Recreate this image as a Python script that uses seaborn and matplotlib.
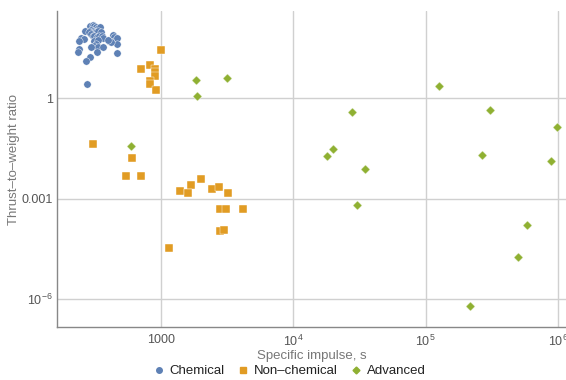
import numpy as np
import pandas as pd
import matplotlib
matplotlib.use("Agg")
import matplotlib.pyplot as plt
import matplotlib.ticker as mticker
from matplotlib.lines import Line2D
import seaborn as sns

# ---- data ----
chem_isp = [268, 294, 306, 315, 325, 334, 350, 298, 306, 315, 325, 338, 354, 289, 298,
            306, 315, 330, 344, 358, 366, 250, 262, 243, 312, 334, 325, 315, 338, 366,
            298, 243, 239, 330, 409, 434, 441, 446, 467, 472, 421, 402, 467, 294, 273, 278]
chem_twr = [105, 148, 155, 148, 132, 123, 138, 112, 105, 98, 93, 105, 98, 93, 83,
            74, 71, 66, 71, 74, 62, 62, 59, 52, 52, 56, 42, 37, 35, 33,
            33, 30, 25, 25, 52, 78, 66, 52, 62, 42, 47, 56, 23, 17, 13, 2.75]

nonchem_isp = [1000, 716, 827, 906, 912, 912, 831, 831, 917, 306, 605, 548, 711,
               2010, 1710, 1396, 1596, 2431, 2763, 3204, 2811, 3097, 4208, 2811, 3013, 1154]
nonchem_twr = [28.1, 7.57, 10.0, 7.4, 5.9, 4.48, 3.3, 2.63, 1.77, 0.0425, 0.0162, 0.00467, 0.00467,
               0.00379, 0.0025, 0.00166, 0.00144, 0.0019, 0.00218, 0.00144, 0.000477, 0.000477,
               0.000477, 0.000110, 0.000117, 3.23e-5]

adv_isp = [1854, 3148, 1875, 602, 126000, 27800, 306000, 977000, 19860, 18030, 265000,
           885000, 35000, 30300, 588000, 500000, 217000]
adv_twr = [3.47, 3.98, 1.15, 0.0363, 2.29, 0.38, 0.436, 0.135, 0.0295, 0.0182, 0.0195,
           0.0129, 0.0074, 0.00062, 0.000166, 1.82e-5, 6.2e-7]

categories = ["Chemical", "Non\u2013chemical", "Advanced"]
colors = ["#5E81B5", "#E19C24", "#8FB032"]
markers = ["o", "s", "D"]
sizes = [28, 28, 22]

x_tick_vals = [1e3, 1e4, 1e5, 1e6]
x_tick_labels = ["1000", r"$10^4$", r"$10^5$", r"$10^6$"]
y_tick_vals = [1, 1e-3, 1e-6]
y_tick_labels = ["1", "0.001", r"$10^{-6}$"]

df = pd.concat([
    pd.DataFrame({"isp": chem_isp, "twr": chem_twr, "type": categories[0]}),
    pd.DataFrame({"isp": nonchem_isp, "twr": nonchem_twr, "type": categories[1]}),
    pd.DataFrame({"isp": adv_isp, "twr": adv_twr, "type": categories[2]}),
])

sns.set_style("white")
plt.rcParams["font.family"] = ["Liberation Sans", "DejaVu Sans"]
plt.rcParams["mathtext.fontset"] = "custom"
plt.rcParams["mathtext.rm"] = "Liberation Sans"
plt.rcParams["mathtext.it"] = "Liberation Sans:italic"
plt.rcParams["mathtext.bf"] = "Liberation Sans:bold"

fig = plt.figure(figsize=(5.66, 3.80), dpi=100)
ax = fig.add_axes([57/566, 53/380, 509/566, 316/380])

for cat, col, mk, sz in zip(categories, colors, markers, sizes):
    sub = df[df["type"] == cat]
    sns.scatterplot(data=sub, x="isp", y="twr", ax=ax, color=col, marker=mk, s=sz,
                    edgecolor="#ffffff", linewidth=0.3, alpha=1.0, zorder=3, legend=False)

ax.set_xscale("log")
ax.set_yscale("log")
ax.set_xlim(165, 1.15e6)
ax.set_ylim(1.44e-7, 407)

for gx in x_tick_vals:
    ax.axvline(gx, color="#d0d0d0", lw=1.0, zorder=1)
for gy in y_tick_vals:
    ax.axhline(gy, color="#d0d0d0", lw=1.0, zorder=1)

ax.xaxis.set_major_locator(mticker.FixedLocator(x_tick_vals))
ax.xaxis.set_major_formatter(mticker.FixedFormatter(x_tick_labels))
ax.xaxis.set_minor_locator(mticker.LogLocator(base=10, subs=np.arange(2, 10), numticks=20))
ax.xaxis.set_minor_formatter(mticker.NullFormatter())
ax.yaxis.set_major_locator(mticker.FixedLocator(y_tick_vals))
ax.yaxis.set_major_formatter(mticker.FixedFormatter(y_tick_labels))
ax.yaxis.set_minor_locator(mticker.FixedLocator([1e2, 1e1, 1e-1, 1e-2, 1e-4, 1e-5]))
ax.yaxis.set_minor_formatter(mticker.NullFormatter())

ax.tick_params(axis="both", which="major", direction="in", length=5, width=0.8,
               color="#888888", labelcolor="#555555", labelsize=9, pad=3)
ax.tick_params(axis="both", which="minor", direction="in", length=2.8, width=0.6,
               color="#888888")
ax.tick_params(axis="x", which="major", pad=5)

for side in ["top", "right"]:
    ax.spines[side].set_visible(False)
for side in ["left", "bottom"]:
    ax.spines[side].set_color("#888888")
    ax.spines[side].set_linewidth(1.0)

ax.set_xlabel("Specific impulse, s", color="#777777", fontsize=9.5)
ax.set_ylabel("Thrust\u2013to\u2013weight ratio", color="#777777", fontsize=9.5)
ax.xaxis.set_label_coords(0.5, -0.092)
ax.yaxis.set_label_coords(-0.0845, 0.53)
ax.xaxis.label.set_va("center")
ax.yaxis.label.set_va("center")

handles = [Line2D([0], [0], marker=mk, color="none", markerfacecolor=col, markeredgecolor=col,
                  markersize=4 if mk != "D" else 3.5, linestyle="none")
           for col, mk in zip(colors, markers)]
fig.legend(handles, categories, loc="center", bbox_to_anchor=(289/566, 9/380), ncol=3,
           frameon=False, fontsize=9.5, handletextpad=0.3, columnspacing=0.9,
           handlelength=1.0, labelcolor="#222222", borderpad=0)

fig.savefig("out.png", dpi=100)
